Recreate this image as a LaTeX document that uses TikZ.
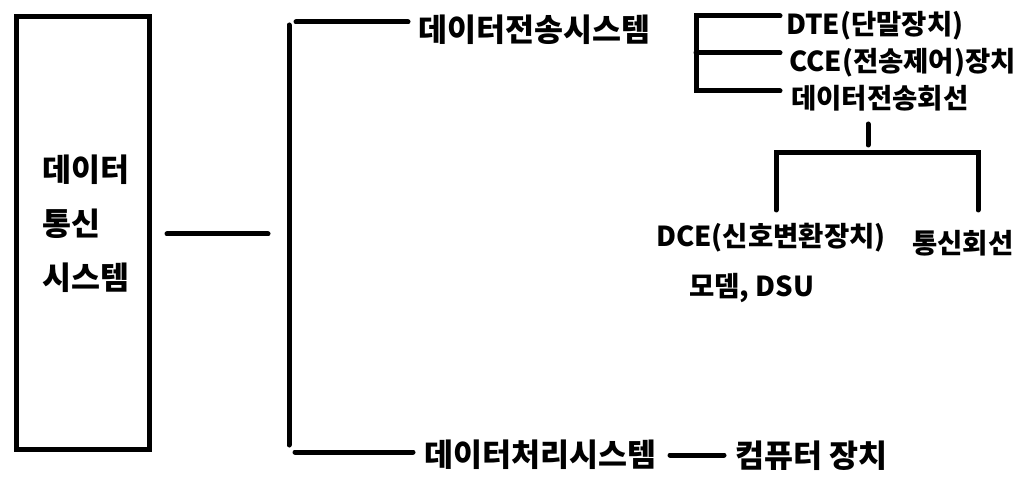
\documentclass[tikz,border=0pt]{standalone}
\usepackage{fontspec}
\setmainfont{Noto Sans CJK KR}
\begin{document}
\begin{tikzpicture}[x=1pt,y=-1pt,
  ln/.style={line width=5pt,line cap=round},
  big/.style={inner sep=0pt,anchor=base west,font=\fontsize{31.5}{36}\selectfont\bfseries},
  sml/.style={inner sep=0pt,anchor=base west,font=\fontsize{27.5}{32}\selectfont\bfseries}]
\useasboundingbox (0,0) rectangle (1019,478);
\fill[white] (0,0) rectangle (1019,478);
% main box
\node[draw,line width=5pt,minimum width=133pt,minimum height=433pt,inner sep=0pt] (box) at (83,233) {};
\node[big] (b1) at (42,182) {데이터};
\node[big] (b2) at (42,236) {통신};
\node[big] (b3) at (42,289) {시스템};
% texts
\node[big] (dt) at (418,42) {데이터전송시스템};
\node[big] (dp) at (424,466) {데이터처리시스템};
\node[big] (comp) at (735,467) {컴퓨터 장치};
\node[sml] (dte) at (786,35) {DTE(단말장치)};
\node[sml] (cce) at (789,72) {CCE(전송제어)장치};
\node[sml] (line) at (791,109) {데이터전송회선};
\node[sml] (dce) at (656,247) {DCE(신호변환장치)};
\node[sml] (tong) at (912,254) {통신회선};
\node[sml] (modem) at (689,296) {모뎀, DSU};
% coordinates
\coordinate (m1) at (167,234); \coordinate (m2) at (268,234);
\coordinate (v1) at (289,25); \coordinate (v2) at (289,445);
\coordinate (t1) at (296,22); \coordinate (t2) at (408,22);
\coordinate (p1) at (295,452); \coordinate (p2) at (413,452);
\coordinate (c1) at (670,455); \coordinate (c2) at (724,455);
\coordinate (r1) at (696,16); \coordinate (r2) at (696,91);
\coordinate (ra) at (780,16); \coordinate (rb) at (696,53); \coordinate (rb2) at (780,53); \coordinate (rc) at (780,91);
\coordinate (s1) at (868,124); \coordinate (s2) at (868,145);
\coordinate (h1) at (776,153); \coordinate (h2) at (978,153);
\coordinate (d1) at (776,210); \coordinate (d2) at (978,210);
% lines
\draw[ln] (m1) -- (m2);
\draw[ln] (v1) -- (v2);
\draw[ln] (t1) -- (t2);
\draw[ln] (p1) -- (p2);
\draw[ln] (c1) -- (c2);
\draw[ln] (ra) -- (r1) -- (r2) -- (rc);
\draw[ln] (rb) -- (rb2);
\draw[ln] (s1) -- (s2);
\draw[ln] (d1) -- (h1) -- (h2) -- (d2);
\end{tikzpicture}
\end{document}
